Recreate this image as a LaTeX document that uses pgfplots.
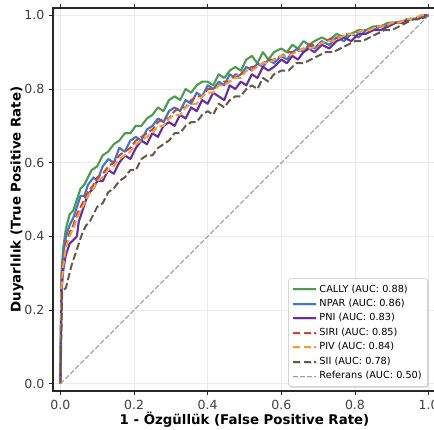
\documentclass[border=0pt]{standalone}
\usepackage{pgfplots}
\pgfplotsset{compat=1.18}
\usepackage{fontspec}
\setmainfont{DejaVu Sans}
\usetikzlibrary{shadows}
\definecolor{cgreen}{RGB}{78,154,78}
\definecolor{cblue}{RGB}{58,122,200}
\definecolor{cpurple}{RGB}{106,45,160}
\definecolor{cred}{RGB}{196,70,62}
\definecolor{corange}{RGB}{240,160,62}
\definecolor{cbrown}{RGB}{104,88,72}
\definecolor{cgray}{RGB}{155,155,155}
\definecolor{spine}{RGB}{40,40,40}
\begin{document}
\begin{tikzpicture}
\begin{axis}[
  scale only axis, width=287.25pt, height=287.25pt,
  xmin=-0.02, xmax=1.02, ymin=-0.02, ymax=1.02,
  xtick={0,0.2,0.4,0.6,0.8,1.0}, ytick={0,0.2,0.4,0.6,0.8,1.0},
  xticklabels={0.0,0.2,0.4,0.6,0.8,1.0}, yticklabels={0.0,0.2,0.4,0.6,0.8,1.0},
  /pgf/number format/assume math mode=true,
  tick label style={font=\fontsize{9.4}{11}\selectfont, text=black!75},
  tick align=outside, major tick length=3pt, tick style={spine, line width=0.6pt},
  axis line style={spine, line width=0.9pt},
  grid=major, grid style={black!8, line width=0.5pt},
  xlabel={\textbf{1 - Özgüllük (False Positive Rate)}},
  ylabel={\textbf{Duyarlılık (True Positive Rate)}},
  label style={font=\fontsize{9}{11}\selectfont},
  every axis x label/.style={at={(rel axis cs:0.5,0)}, anchor=center, yshift=-21.5pt},
  every axis y label/.style={at={(rel axis cs:0,0.5)}, xshift=-27pt, rotate=90, anchor=center},
  legend style={at={(rel axis cs:1,0)}, anchor=south east, xshift=-6pt, yshift=3pt,
    font=\fontsize{7.3}{8.5}\selectfont, draw=black!25, rounded corners=2pt,
    fill=white, row sep=-0.2pt, inner sep=2.5pt,
    drop shadow={opacity=0.2, shadow xshift=0.8pt, shadow yshift=-0.8pt}},
  legend cell align=left,
  every axis plot/.append style={line join=round},
]
\coordinate (SW) at (rel axis cs:0,0);
\coordinate (NE) at (rel axis cs:1,1);
% CALLY
\addplot[cgreen, line width=1.6pt] coordinates {
(0,0) (0.003,0.30) (0.008,0.37) (0.015,0.42) (0.025,0.46) (0.035,0.47) (0.045,0.50)
(0.055,0.53) (0.065,0.54) (0.075,0.56) (0.085,0.58) (0.10,0.59) (0.115,0.62) (0.13,0.63)
(0.145,0.65) (0.16,0.66) (0.175,0.68) (0.19,0.68) (0.205,0.70) (0.22,0.70) (0.235,0.72)
(0.25,0.73) (0.265,0.75) (0.28,0.74) (0.295,0.77) (0.31,0.78) (0.325,0.77) (0.34,0.80)
(0.355,0.79) (0.37,0.81) (0.385,0.82) (0.40,0.82) (0.415,0.81) (0.43,0.84) (0.445,0.83)
(0.46,0.85) (0.475,0.86) (0.49,0.85) (0.505,0.88) (0.52,0.89) (0.535,0.87) (0.55,0.90)
(0.565,0.88) (0.58,0.90) (0.60,0.91) (0.615,0.90) (0.63,0.92) (0.645,0.91) (0.66,0.93)
(0.675,0.92) (0.69,0.93) (0.71,0.94) (0.73,0.93) (0.75,0.95) (0.77,0.94) (0.79,0.95)
(0.81,0.96) (0.83,0.96) (0.85,0.97) (0.87,0.97) (0.89,0.98) (0.91,0.98) (0.93,0.985)
(0.95,0.99) (0.97,0.99) (0.99,1.0) (1,1)};
\addlegendentry{CALLY (AUC: 0.88)}
% NPAR
\addplot[cblue, line width=1.6pt] coordinates {
(0,0) (0.003,0.28) (0.008,0.35) (0.015,0.40) (0.025,0.43) (0.035,0.45) (0.045,0.48)
(0.055,0.51) (0.065,0.51) (0.075,0.54) (0.09,0.56) (0.10,0.55) (0.115,0.59) (0.13,0.61)
(0.145,0.60) (0.16,0.64) (0.175,0.63) (0.19,0.66) (0.205,0.67) (0.22,0.66) (0.235,0.69)
(0.25,0.70) (0.265,0.72) (0.28,0.71) (0.295,0.74) (0.31,0.75) (0.325,0.74) (0.34,0.77)
(0.355,0.76) (0.37,0.79) (0.385,0.78) (0.40,0.81) (0.415,0.80) (0.43,0.82) (0.445,0.81)
(0.46,0.84) (0.475,0.83) (0.49,0.84) (0.505,0.86) (0.52,0.85) (0.535,0.87) (0.55,0.86)
(0.565,0.88) (0.58,0.87) (0.60,0.89) (0.615,0.88) (0.63,0.90) (0.645,0.91) (0.66,0.90)
(0.675,0.92) (0.69,0.91) (0.71,0.93) (0.73,0.92) (0.75,0.94) (0.77,0.93) (0.79,0.95)
(0.81,0.94) (0.83,0.96) (0.85,0.96) (0.87,0.97) (0.89,0.97) (0.91,0.98) (0.93,0.98)
(0.95,0.99) (0.97,0.99) (0.99,1.0) (1,1)};
\addlegendentry{NPAR (AUC: 0.86)}
% PNI
\addplot[cpurple, line width=1.6pt] coordinates {
(0,0) (0.003,0.25) (0.008,0.31) (0.015,0.35) (0.025,0.38) (0.035,0.39) (0.045,0.40)
(0.05,0.44) (0.06,0.47) (0.07,0.50) (0.08,0.52) (0.09,0.53) (0.10,0.55) (0.115,0.55)
(0.13,0.58) (0.145,0.57) (0.16,0.60) (0.175,0.62) (0.19,0.61) (0.205,0.64) (0.22,0.66)
(0.235,0.65) (0.25,0.68) (0.265,0.67) (0.28,0.70) (0.295,0.71) (0.31,0.70) (0.325,0.73)
(0.34,0.72) (0.355,0.75) (0.37,0.74) (0.385,0.77) (0.40,0.76) (0.415,0.79) (0.43,0.78)
(0.445,0.77) (0.46,0.81) (0.475,0.80) (0.49,0.82) (0.505,0.81) (0.52,0.84) (0.535,0.83)
(0.55,0.86) (0.565,0.85) (0.58,0.86) (0.60,0.88) (0.615,0.87) (0.63,0.89) (0.645,0.88)
(0.66,0.90) (0.675,0.91) (0.69,0.90) (0.71,0.92) (0.73,0.91) (0.75,0.93) (0.77,0.94)
(0.79,0.93) (0.81,0.95) (0.83,0.95) (0.85,0.96) (0.87,0.96) (0.89,0.97) (0.91,0.98)
(0.93,0.98) (0.95,0.99) (0.97,0.99) (0.99,1.0) (1,1)};
\addlegendentry{PNI (AUC: 0.83)}
% SIRI
\addplot[cred, line width=1.5pt, dash pattern=on 5.5pt off 2.4pt] coordinates {
(0,0) (0.003,0.27) (0.008,0.33) (0.015,0.38) (0.025,0.41) (0.035,0.43) (0.045,0.46)
(0.055,0.48) (0.065,0.50) (0.075,0.52) (0.09,0.54) (0.10,0.56) (0.115,0.57) (0.13,0.59)
(0.145,0.60) (0.16,0.62) (0.175,0.63) (0.19,0.64) (0.205,0.66) (0.22,0.67) (0.235,0.68)
(0.25,0.69) (0.265,0.71) (0.28,0.72) (0.295,0.72) (0.31,0.74) (0.325,0.75) (0.34,0.75)
(0.355,0.77) (0.37,0.78) (0.385,0.78) (0.40,0.80) (0.415,0.80) (0.43,0.81) (0.445,0.82)
(0.46,0.82) (0.475,0.84) (0.49,0.84) (0.505,0.85) (0.52,0.86) (0.535,0.86) (0.55,0.87)
(0.565,0.88) (0.58,0.88) (0.60,0.89) (0.62,0.90) (0.64,0.90) (0.66,0.91) (0.68,0.92)
(0.70,0.92) (0.72,0.93) (0.74,0.94) (0.76,0.94) (0.78,0.95) (0.80,0.95) (0.82,0.96)
(0.84,0.96) (0.86,0.97) (0.88,0.97) (0.90,0.98) (0.92,0.98) (0.94,0.99) (0.96,0.99)
(0.98,1.0) (1,1)};
\addlegendentry{SIRI (AUC: 0.85)}
% PIV
\addplot[corange, line width=1.5pt, dash pattern=on 5.5pt off 2.4pt] coordinates {
(0,0) (0.003,0.26) (0.008,0.32) (0.015,0.37) (0.025,0.40) (0.035,0.42) (0.045,0.45)
(0.055,0.47) (0.065,0.49) (0.075,0.51) (0.09,0.53) (0.10,0.55) (0.115,0.56) (0.13,0.58)
(0.145,0.59) (0.16,0.61) (0.175,0.62) (0.19,0.63) (0.205,0.65) (0.22,0.66) (0.235,0.67)
(0.25,0.68) (0.265,0.70) (0.28,0.70) (0.295,0.72) (0.31,0.73) (0.325,0.73) (0.34,0.75)
(0.355,0.76) (0.37,0.76) (0.385,0.78) (0.40,0.79) (0.415,0.79) (0.43,0.81) (0.445,0.81)
(0.46,0.82) (0.475,0.83) (0.49,0.83) (0.505,0.85) (0.52,0.85) (0.535,0.86) (0.55,0.87)
(0.565,0.87) (0.58,0.88) (0.60,0.89) (0.62,0.89) (0.64,0.90) (0.66,0.91) (0.68,0.91)
(0.70,0.92) (0.72,0.93) (0.74,0.93) (0.76,0.94) (0.78,0.95) (0.80,0.95) (0.82,0.96)
(0.84,0.96) (0.86,0.97) (0.88,0.97) (0.90,0.98) (0.92,0.98) (0.94,0.99) (0.96,0.99)
(0.98,1.0) (1,1)};
\addlegendentry{PIV (AUC: 0.84)}
% SII
\addplot[cbrown, line width=1.5pt, dash pattern=on 5.5pt off 2.4pt] coordinates {
(0,0) (0.005,0.25) (0.015,0.26) (0.02,0.28) (0.03,0.32) (0.04,0.35) (0.05,0.38)
(0.06,0.41) (0.07,0.43) (0.08,0.44) (0.09,0.46) (0.10,0.48) (0.115,0.49) (0.13,0.52)
(0.145,0.53) (0.16,0.55) (0.175,0.56) (0.19,0.58) (0.205,0.58) (0.22,0.61) (0.235,0.62)
(0.25,0.62) (0.265,0.64) (0.28,0.65) (0.295,0.66) (0.31,0.68) (0.325,0.68) (0.34,0.70)
(0.355,0.71) (0.37,0.71) (0.385,0.73) (0.40,0.74) (0.415,0.73) (0.43,0.76) (0.445,0.75)
(0.46,0.77) (0.475,0.78) (0.49,0.78) (0.505,0.80) (0.52,0.81) (0.535,0.80) (0.55,0.83)
(0.565,0.82) (0.58,0.84) (0.60,0.85) (0.62,0.85) (0.64,0.87) (0.66,0.87) (0.68,0.88)
(0.70,0.89) (0.72,0.90) (0.74,0.90) (0.76,0.91) (0.78,0.92) (0.80,0.93) (0.82,0.93)
(0.84,0.94) (0.86,0.95) (0.88,0.96) (0.90,0.96) (0.92,0.97) (0.94,0.98) (0.96,0.99)
(0.98,0.99) (1,1)};
\addlegendentry{SII (AUC: 0.78)}
% Reference
\addplot[cgray, line width=0.8pt, dash pattern=on 3.7pt off 1.6pt] coordinates {(0,0) (1,1)};
\addlegendentry{Referans (AUC: 0.50)}
\end{axis}
\pgfresetboundingbox
\path[use as bounding box] ([xshift=-39.75pt,yshift=-28.5pt]SW) rectangle ([xshift=-1.5pt,yshift=6pt]NE);
\end{tikzpicture}
\end{document}
